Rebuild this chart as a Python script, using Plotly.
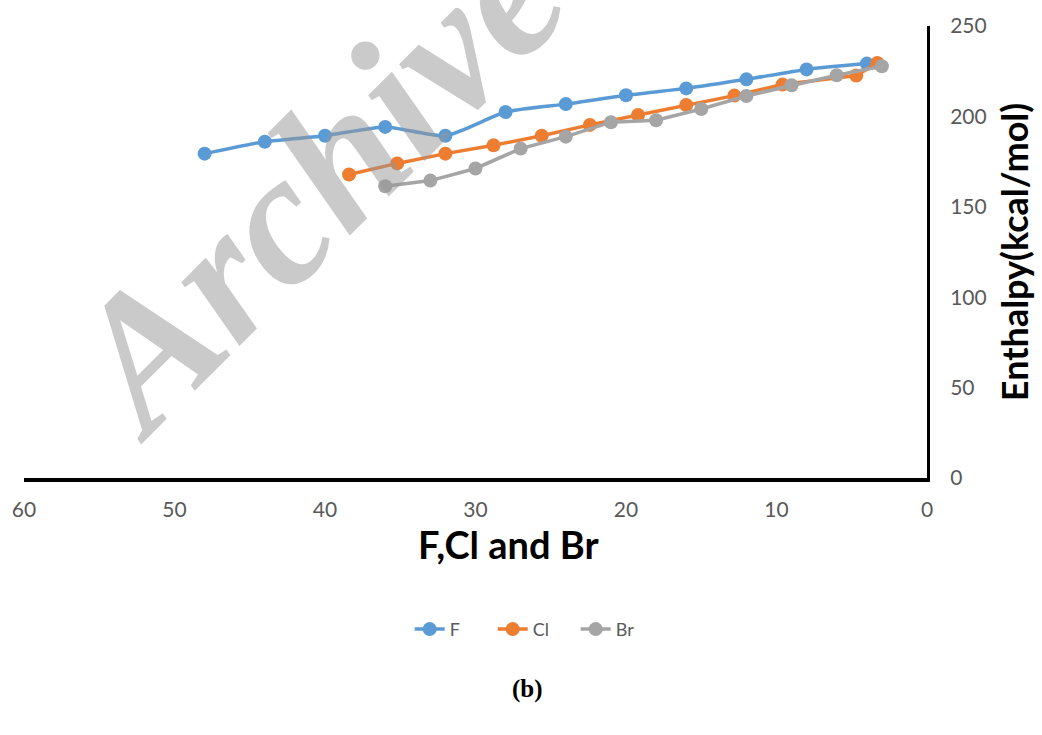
import plotly.graph_objects as go

# Data
f_x = [48, 44, 40, 36, 32, 28, 24, 20, 16, 12, 8, 4]
f_y = [179.4, 186.0, 189.3, 194.2, 189.3, 202.4, 206.8, 211.7, 215.5, 220.5, 226.0, 229.2]

cl_x = [38.4, 35.2, 32.0, 28.8, 25.6, 22.4, 19.2, 16.0, 12.8, 9.6, 4.7, 3.3]
cl_y = [167.9, 174.0, 179.4, 184.0, 189.3, 195.3, 200.8, 206.3, 211.5, 217.6, 222.6, 229.6]

br_x = [36, 33, 30, 27, 24, 21, 18, 15, 12, 9, 6, 3]
br_y = [161.4, 164.5, 171.2, 182.2, 188.8, 196.8, 197.9, 204.1, 211.3, 217.2, 222.8, 227.7]

x_ticks = [0, 10, 20, 30, 40, 50, 60]
y_ticks = [0, 50, 100, 150, 200, 250]

BLUE = "#5B9BD5"
ORANGE = "#ED7D31"
GRAY = "#A5A5A5"
TICK = "#595959"
FONT = "Lato, 'Open Sans', sans-serif"

fig = go.Figure()
fig.add_trace(go.Scatter(x=f_x, y=f_y, name="F", mode="lines+markers",
                         line=dict(color=BLUE, width=3.5, shape="spline", smoothing=0.6),
                         marker=dict(color=BLUE, size=14)))
fig.add_trace(go.Scatter(x=cl_x, y=cl_y, name="Cl", mode="lines+markers",
                         line=dict(color=ORANGE, width=3.5),
                         marker=dict(color=ORANGE, size=14)))
fig.add_trace(go.Scatter(x=br_x, y=br_y, name="Br", mode="lines+markers",
                         line=dict(color=GRAY, width=3.5),
                         marker=dict(color=GRAY, size=14)))

fig.update_layout(
    width=1042, height=735,
    margin=dict(l=23, r=114, t=21, b=257),
    paper_bgcolor="white", plot_bgcolor="white",
    showlegend=True,
    legend=dict(orientation="h", x=0.565, xanchor="center", y=-0.335, yanchor="middle",
                font=dict(family=FONT, size=18, color=TICK),
                entrywidth=38, entrywidthmode="pixels",
                traceorder="normal"),
    xaxis=dict(range=[60, 0], tickvals=x_ticks, showgrid=False, zeroline=False,
               showline=True, linecolor="black", linewidth=4,
               ticks="", ticklabelstandoff=10,
               tickfont=dict(family=FONT, size=21, color=TICK)),
    yaxis=dict(range=[0, 250], tickvals=y_ticks, side="right", showgrid=False, zeroline=False,
               showline=True, linecolor="black", linewidth=3,
               ticks="", ticklabelstandoff=16,
               tickfont=dict(family=FONT, size=21, color=TICK),
               title=dict(text="<b>Enthalpy(kcal/mol)</b>", standoff=18,
                          font=dict(family=FONT, size=36, color="black"))),
)

fig.add_annotation(text="<b>F,Cl and Br</b>", xref="paper", yref="paper", x=0.536, y=-0.145,
                   xanchor="center", yanchor="middle", showarrow=False,
                   font=dict(family=FONT, size=38, color="black"))

fig.add_annotation(text="<b>(b)</b>", xref="paper", yref="paper", x=0.558, y=-0.466,
                   xanchor="center", yanchor="middle",
                   showarrow=False, font=dict(family="Liberation Serif, serif", size=25, color="black"))

fig.add_annotation(text="<b><i>Archive</i></b>", xref="paper", yref="paper", x=0.3215, y=0.655,
                   xanchor="center", yanchor="middle",
                   showarrow=False, textangle=-45,
                   font=dict(family="Liberation Serif, serif", size=188, color="rgba(150,150,150,0.5)"))

fig.write_html("out.html")
